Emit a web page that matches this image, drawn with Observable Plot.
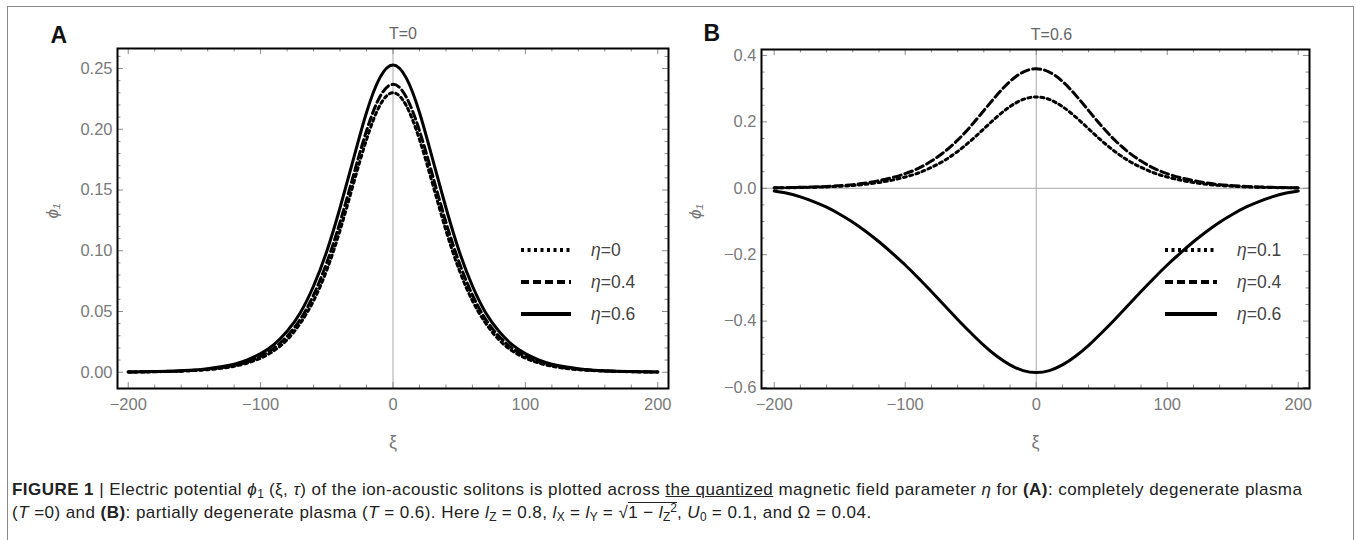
<!DOCTYPE html>
<html><head><meta charset="utf-8">
<script src="https://cdn.jsdelivr.net/npm/d3@7"></script>
<script src="https://cdn.jsdelivr.net/npm/@observablehq/plot@0.6"></script>
<style>
body{margin:0;background:#fff;}
#fig{position:relative;width:1356px;height:540px;overflow:hidden;font-family:"Liberation Sans",Arial,sans-serif;background:#fff;}
#border{position:absolute;left:7px;top:6px;width:1347px;height:600px;border:1.5px solid #8a8a8a;box-sizing:border-box;}
.panel{position:absolute;top:0;}
.leg{position:absolute;font-size:17.5px;color:#444;display:flex;align-items:center;height:20px;}
.leg svg{display:block;}
.leg span{margin-left:20px;}
#caption{position:absolute;left:12px;top:478px;width:1340px;font-size:17px;letter-spacing:0.45px;line-height:23px;color:#222;white-space:nowrap;}
#caption sub{font-size:0.7em;vertical-align:-0.25em;line-height:0;letter-spacing:0;}
#caption sup{font-size:0.7em;vertical-align:0.5em;line-height:0;letter-spacing:0;}
</style>
</head><body>
<div id="fig">
  <div id="border"></div>
  <div id="panelA" class="panel" style="left:0px"></div>
  <div id="panelB" class="panel" style="left:676px"></div>
  <div id="legA"></div>
  <div id="legB"></div>
  <div id="caption"><b>FIGURE 1</b> | Electric potential <i>ϕ</i><sub>1</sub> (ξ, <i>τ</i>) of the ion-acoustic solitons is plotted across <u>the quantized</u> magnetic field parameter <i>η</i> for <b>(A)</b>: completely degenerate plasma<br>(<i>T</i> =0) and <b>(B)</b>: partially degenerate plasma (<i>T</i> = 0.6). Here <i>l</i><sub>Z</sub> = 0.8, <i>l</i><sub>X</sub> = <i>l</i><sub>Y</sub> = √<span style="border-top:1px solid #222">1 − <i>l</i><sub>Z</sub><sup>2</sup></span>, <i>U</i><sub>0</sub> = 0.1, and Ω = 0.04.</div>
</div>
<script>
// ξ sample positions
const xi = [-200,-190,-180,-170,-160,-150,-140,-130,-120,-110,-100,-90,-80,-70,-60,-50,-40,-30,-20,-10,0,10,20,30,40,50,60,70,80,90,100,110,120,130,140,150,160,170,180,190,200];

// Panel A (T=0)
const a_eta0  = [0.0002,0.0002,0.0004,0.0006,0.0009,0.0014,0.0021,0.0032,0.0049,0.0076,0.0116,0.0176,0.0267,0.0403,0.0588,0.0841,0.1167,0.1546,0.1915,0.2195,0.230,0.2195,0.1915,0.1546,0.1167,0.0841,0.0588,0.0403,0.0267,0.0176,0.0116,0.0076,0.0049,0.0032,0.0021,0.0014,0.0009,0.0006,0.0004,0.0002,0.0002];
const a_eta04 = [0.0002,0.0003,0.0005,0.0007,0.0010,0.0016,0.0024,0.0037,0.0057,0.0086,0.0131,0.0198,0.0296,0.0436,0.0636,0.0903,0.1235,0.1617,0.1988,0.2266,0.237,0.2266,0.1988,0.1617,0.1235,0.0903,0.0636,0.0436,0.0296,0.0198,0.0131,0.0086,0.0057,0.0037,0.0024,0.0016,0.0010,0.0007,0.0005,0.0003,0.0002];
const a_eta06 = [0.0002,0.0004,0.0006,0.0008,0.0013,0.0019,0.0029,0.0045,0.0067,0.0102,0.0153,0.0227,0.0337,0.049,0.071,0.0996,0.1354,0.175,0.2138,0.2423,0.253,0.2423,0.2138,0.175,0.1354,0.0996,0.071,0.049,0.0337,0.0227,0.0153,0.0102,0.0067,0.0045,0.0029,0.0019,0.0013,0.0008,0.0006,0.0004,0.0002];

// Panel B (T=0.6)
const b_eta01 = [0.0011,0.0015,0.0023,0.0031,0.0042,0.0061,0.0084,0.0122,0.0176,0.0245,0.034,0.046,0.063,0.084,0.111,0.143,0.179,0.215,0.246,0.2675,0.275,0.2675,0.246,0.215,0.179,0.143,0.111,0.084,0.063,0.046,0.034,0.0245,0.0176,0.0122,0.0084,0.0061,0.0042,0.0031,0.0023,0.0015,0.0011];
const b_eta04 = [0.0015,0.002,0.003,0.004,0.0055,0.008,0.011,0.016,0.023,0.032,0.044,0.060,0.082,0.110,0.145,0.187,0.234,0.281,0.322,0.350,0.36,0.350,0.322,0.281,0.234,0.187,0.145,0.110,0.082,0.060,0.044,0.032,0.023,0.016,0.011,0.008,0.0055,0.004,0.003,0.002,0.0015];
const b_eta06 = [-0.008,-0.015,-0.026,-0.040,-0.057,-0.078,-0.102,-0.130,-0.161,-0.195,-0.231,-0.270,-0.311,-0.353,-0.395,-0.435,-0.473,-0.506,-0.532,-0.549,-0.555,-0.549,-0.532,-0.506,-0.473,-0.435,-0.395,-0.353,-0.311,-0.270,-0.231,-0.195,-0.161,-0.130,-0.102,-0.078,-0.057,-0.040,-0.026,-0.015,-0.008];

// ticks
const xMajor = [-200,-100,0,100,200];
const xMinor = [-180,-160,-140,-120,-80,-60,-40,-20,20,40,60,80,120,140,160,180];
const aYMajor = [0,0.05,0.1,0.15,0.2,0.25];
const aYMinor = [0.01,0.02,0.03,0.04,0.06,0.07,0.08,0.09,0.11,0.12,0.13,0.14,0.16,0.17,0.18,0.19,0.21,0.22,0.23,0.24,0.26];
const bYMajor = [-0.6,-0.4,-0.2,0,0.2,0.4];
const bYMinor = [-0.55,-0.5,-0.45,-0.35,-0.3,-0.25,-0.15,-0.1,-0.05,0.05,0.1,0.15,0.25,0.3,0.35];

const styles = [
  {dash: "3,3.5"},
  {dash: "8,4"},
  {dash: null}
];

function panel(opt) {
  const W = 680, H = 440;
  const {ml, mr, mt, mb} = opt;
  const pw = W - ml - mr, ph = H - mt - mb;
  const tickCol = "#8c8c8c";
  const marks = [];
  marks.push(Plot.ruleX([0], {x: d => d, stroke: "#a8a8a8", strokeWidth: 1}));
  if (opt.hAxis) marks.push(Plot.ruleY([0], {y: d => d, stroke: "#a8a8a8", strokeWidth: 1}));
  // ticks (inward, all four sides)
  marks.push(Plot.tickX(xMinor, {x: d => d, insetTop: ph - 3.5, stroke: tickCol}));
  marks.push(Plot.tickX(xMajor, {x: d => d, insetTop: ph - 6, stroke: tickCol}));
  marks.push(Plot.tickX(xMinor, {x: d => d, insetBottom: ph - 3.5, stroke: tickCol}));
  marks.push(Plot.tickX(xMajor, {x: d => d, insetBottom: ph - 6, stroke: tickCol}));
  marks.push(Plot.tickY(opt.yMinor, {y: d => d, insetRight: pw - 3.5, stroke: tickCol}));
  marks.push(Plot.tickY(opt.yMajor, {y: d => d, insetRight: pw - 6, stroke: tickCol}));
  marks.push(Plot.tickY(opt.yMinor, {y: d => d, insetLeft: pw - 3.5, stroke: tickCol}));
  marks.push(Plot.tickY(opt.yMajor, {y: d => d, insetLeft: pw - 6, stroke: tickCol}));
  // curves
  opt.series.forEach((vals, i) => {
    const data = xi.map((x, j) => ({x, y: vals[j]}));
    marks.push(Plot.line(data, {x: "x", y: "y", stroke: "black", strokeWidth: 3,
      strokeDasharray: styles[i].dash, curve: "natural"}));
  });
  marks.push(Plot.frame({stroke: "black", strokeWidth: 2}));
  marks.push(Plot.axisX(xMajor, {tickSize: 0, tickPadding: 10, fontSize: 16.5, color: "#7a7a7a", label: null}));
  marks.push(Plot.axisY(opt.yMajor, {tickSize: 0, tickPadding: 5, fontSize: 16.5, color: "#7a7a7a", label: null, tickFormat: d3.format(opt.yFmt)}));
  marks.push(Plot.text(["ξ"], {text: d => d, frameAnchor: "bottom", lineAnchor: "middle", dy: 54, fontSize: 18, fill: "#777"}));
  marks.push(Plot.text(["ϕ₁"], {text: d => d, frameAnchor: "left", lineAnchor: "middle", rotate: -90, dx: opt.phiDx, fontSize: 17, fill: "#777", fontStyle: "italic"}));
  marks.push(Plot.text([opt.title], {text: d => d, frameAnchor: "top", lineAnchor: "middle", dy: -15, dx: opt.titleDx, fontSize: 16, fill: "#666"}));
  marks.push(Plot.text([opt.letter], {text: d => d, frameAnchor: "top-left", textAnchor: "start", lineAnchor: "middle", dx: opt.letterDx, dy: opt.letterDy, fontSize: 23, fontWeight: "bold", fill: "#111"}));
  return Plot.plot({
    width: W, height: H,
    marginLeft: ml, marginRight: mr, marginTop: mt, marginBottom: mb,
    style: {background: "transparent", overflow: "visible", maxWidth: "none", fontFamily: "'Liberation Sans', Arial, sans-serif"},
    x: {domain: opt.xDomain},
    y: {domain: opt.yDomain},
    marks
  });
}

document.getElementById("panelA").appendChild(panel({
  ml: 117, mr: 12, mt: 48, mb: 52,
  xDomain: [-208.1, 208.1], yDomain: [-0.0134, 0.2665],
  yMajor: aYMajor, yMinor: aYMinor, yFmt: ".2f",
  series: [a_eta0, a_eta04, a_eta06],
  title: "T=0", titleDx: 10, letter: "A", letterDx: -67, letterDy: -13, phiDx: -65
}));
document.getElementById("panelB").appendChild(panel({
  ml: 85, mr: 47, mt: 49, mb: 52,
  xDomain: [-209.7, 208.6], yDomain: [-0.603, 0.418], hAxis: true,
  yMajor: bYMajor, yMinor: bYMinor, yFmt: ".1f",
  series: [b_eta01, b_eta04, b_eta06],
  title: "T=0.6", titleDx: 16, letter: "B", letterDx: -58, letterDy: -16, phiDx: -66
}));

// legends
const legA = ["η=0", "η=0.4", "η=0.6"];
const legB = ["η=0.1", "η=0.4", "η=0.6"];
function legend(id, labels, left, tops, len) {
  const host = document.getElementById(id);
  labels.forEach((lab, i) => {
    const d = document.createElement("div");
    d.className = "leg";
    d.style.left = left + "px";
    d.style.top = (tops[i] - 10) + "px";
    const dash = styles[i].dash ? `stroke-dasharray="${styles[i].dash}"` : "";
    d.innerHTML = `<svg width="${len}" height="20"><line x1="0" x2="${len}" y1="10" y2="10" stroke="black" stroke-width="4" ${dash}/></svg><span><i>${lab.slice(0,1)}</i>${lab.slice(1)}</span>`;
    host.appendChild(d);
  });
}
legend("legA", legA, 521, [250, 282, 314], 50);
legend("legB", legB, 1165, [250, 282, 314], 52);
</script>
</body></html>
